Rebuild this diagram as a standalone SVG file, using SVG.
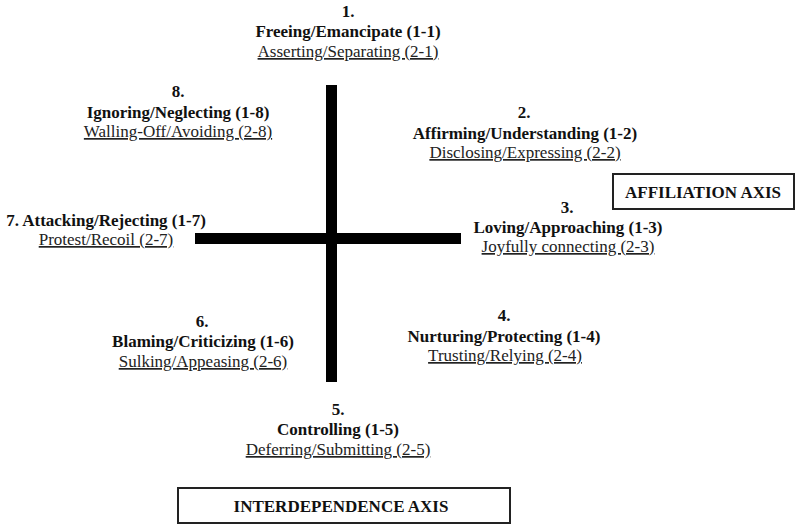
<svg xmlns="http://www.w3.org/2000/svg" width="800" height="529" viewBox="0 0 800 529">
<style>
text{font-family:"Liberation Serif","Times New Roman",serif;font-size:17px;text-anchor:middle;fill:#111}
.b{font-weight:bold}
.u{text-decoration:underline;fill:#222}
.box{fill:#fff;stroke:#222;stroke-width:2}
.ax{font-weight:bold;font-size:17px}
.bar{fill:#000}
</style>
<rect width="800" height="529" fill="#fff"/>
<g id="connectors">
<rect class="bar" x="326" y="85" width="11" height="297"/>
<rect class="bar" x="195" y="233" width="266" height="11"/>
</g>
<g id="n1"><text class="b" x="348" y="17">1.</text><text class="b" x="348" y="37">Freeing/Emancipate (1-1)</text><text class="u" x="348" y="57">Asserting/Separating (2-1)</text></g>
<g id="n2"><text class="b" x="524" y="118">2.</text><text class="b" x="525" y="139">Affirming/Understanding (1-2)</text><text class="u" x="525" y="158">Disclosing/Expressing (2-2)</text></g>
<g id="n3"><text class="b" x="567" y="213">3.</text><text class="b" x="568" y="233">Loving/Approaching (1-3)</text><text class="u" x="568" y="252">Joyfully connecting (2-3)</text></g>
<g id="n4"><text class="b" x="504" y="321">4.</text><text class="b" x="504" y="342">Nurturing/Protecting (1-4)</text><text class="u" x="505" y="361">Trusting/Relying (2-4)</text></g>
<g id="n5"><text class="b" x="338" y="415">5.</text><text class="b" x="338" y="435">Controlling (1-5)</text><text class="u" x="338" y="455">Deferring/Submitting (2-5)</text></g>
<g id="n6"><text class="b" x="202" y="327">6.</text><text class="b" x="203" y="347">Blaming/Criticizing (1-6)</text><text class="u" x="203" y="367">Sulking/Appeasing (2-6)</text></g>
<g id="n7"><text class="b" x="106" y="226">7. Attacking/Rejecting (1-7)</text><text class="u" x="106" y="245">Protest/Recoil (2-7)</text></g>
<g id="n8"><text class="b" x="178" y="97">8.</text><text class="b" x="178" y="118">Ignoring/Neglecting (1-8)</text><text class="u" x="178" y="137">Walling-Off/Avoiding (2-8)</text></g>
<g id="affiliation"><rect class="box" x="613" y="174" width="181" height="35"/><text class="ax" x="703" y="198">AFFILIATION AXIS</text></g>
<g id="interdependence"><rect class="box" x="178" y="488" width="332" height="35"/><text class="ax" x="341" y="512">INTERDEPENDENCE AXIS</text></g>
</svg>
